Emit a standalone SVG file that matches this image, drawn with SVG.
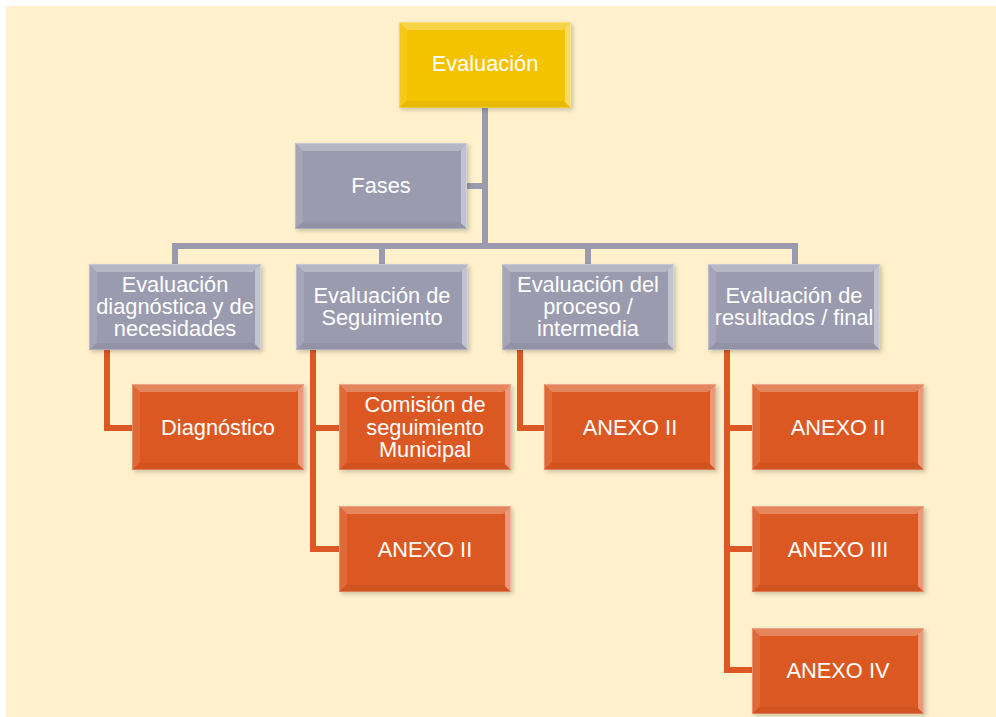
<svg xmlns="http://www.w3.org/2000/svg" xmlns:xlink="http://www.w3.org/1999/xlink" width="996" height="717" viewBox="0 0 996 717">
<style>
.t{font-family:"Liberation Sans",Arial,sans-serif;font-size:21.8px;fill:#ffffff;text-anchor:middle}
.gold{fill:#F4C300}
.gray{fill:#9A9BAF}
.org{fill:#DC5824}
.cg{stroke:#9A9BAF;stroke-width:6;fill:none}
.co{stroke:#DC5824;stroke-width:6;fill:none}
</style>
<defs>
<filter id="sh" x="-10%" y="-10%" width="130%" height="130%">
<feDropShadow dx="2" dy="2" stdDeviation="2" flood-color="#000" flood-opacity="0.2"/>
</filter>
<g id="bevel">
<polygon points="0,0 172,0 164,8 8,8" fill="#ffffff" fill-opacity="0.28"/>
<polygon points="0,0 8,8 8,78 0,86" fill="#ffffff" fill-opacity="0.1"/>
<polygon points="172,0 172,86 166,80 166,6" fill="#ffffff" fill-opacity="0.4"/>
<polygon points="0,86 172,86 164,79 8,79" fill="#000000" fill-opacity="0.05"/>
<rect x="0.5" y="0.5" width="171" height="85" fill="none" stroke="#ffffff" stroke-opacity="0.25"/>
</g>
</defs>
<rect x="0" y="0" width="996" height="717" fill="#ffffff"/>
<rect x="6" y="6" width="990" height="711" fill="#FEF1CC"/>
<g id="connectors">
<path class="cg" d="M485,107 V246"/>
<path class="cg" d="M467,186 H485"/>
<path class="cg" d="M175,264 V246 H795 V264"/>
<path class="cg" d="M382,246 V264"/>
<path class="cg" d="M588,246 V264"/>
<path class="co" d="M107,349 V428 H132"/>
<path class="co" d="M313,349 V549 H339"/>
<path class="co" d="M313,428 H339"/>
<path class="co" d="M520,349 V428 H544"/>
<path class="co" d="M727,349 V670 H752"/>
<path class="co" d="M727,428 H752"/>
<path class="co" d="M727,549 H752"/>
</g>
<g id="n-evaluacion" transform="translate(399,22)">
<rect width="172" height="86" class="gold" filter="url(#sh)"/><use xlink:href="#bevel"/>
<text class="t" x="86" y="49">Evaluación</text>
</g>
<g id="n-fases" transform="translate(295,143)">
<rect width="172" height="86" class="gray" filter="url(#sh)"/><use xlink:href="#bevel"/>
<text class="t" x="86" y="50">Fases</text>
</g>
<g id="n-diag-nec" transform="translate(89,264)">
<rect width="172" height="86" class="gray" filter="url(#sh)"/><use xlink:href="#bevel"/>
<text class="t" x="86" y="28">Evaluación</text>
<text class="t" x="86" y="50">diagnóstica y de</text>
<text class="t" x="86" y="72">necesidades</text>
</g>
<g id="n-seguimiento" transform="translate(296,264)">
<rect width="172" height="86" class="gray" filter="url(#sh)"/><use xlink:href="#bevel"/>
<text class="t" x="86" y="39">Evaluación de</text>
<text class="t" x="86" y="61">Seguimiento</text>
</g>
<g id="n-proceso" transform="translate(502,264)">
<rect width="172" height="86" class="gray" filter="url(#sh)"/><use xlink:href="#bevel"/>
<text class="t" x="86" y="28">Evaluación del</text>
<text class="t" x="86" y="50">proceso /</text>
<text class="t" x="86" y="72">intermedia</text>
</g>
<g id="n-resultados" transform="translate(708,264)">
<rect width="172" height="86" class="gray" filter="url(#sh)"/><use xlink:href="#bevel"/>
<text class="t" x="86" y="39">Evaluación de</text>
<text class="t" x="86" y="61">resultados / final</text>
</g>
<g id="n-diagnostico" transform="translate(132,384)">
<rect width="172" height="86" class="org" filter="url(#sh)"/><use xlink:href="#bevel"/>
<text class="t" x="86" y="51">Diagnóstico</text>
</g>
<g id="n-comision" transform="translate(339,384)">
<rect width="172" height="86" class="org" filter="url(#sh)"/><use xlink:href="#bevel"/>
<text class="t" x="86" y="28">Comisión de</text>
<text class="t" x="86" y="51">seguimiento</text>
<text class="t" x="86" y="73">Municipal</text>
</g>
<g id="n-seg-anexo2" transform="translate(339,506)">
<rect width="172" height="86" class="org" filter="url(#sh)"/><use xlink:href="#bevel"/>
<text class="t" x="86" y="51">ANEXO II</text>
</g>
<g id="n-proc-anexo2" transform="translate(544,384)">
<rect width="172" height="86" class="org" filter="url(#sh)"/><use xlink:href="#bevel"/>
<text class="t" x="86" y="51">ANEXO II</text>
</g>
<g id="n-res-anexo2" transform="translate(752,384)">
<rect width="172" height="86" class="org" filter="url(#sh)"/><use xlink:href="#bevel"/>
<text class="t" x="86" y="51">ANEXO II</text>
</g>
<g id="n-res-anexo3" transform="translate(752,506)">
<rect width="172" height="86" class="org" filter="url(#sh)"/><use xlink:href="#bevel"/>
<text class="t" x="86" y="51">ANEXO III</text>
</g>
<g id="n-res-anexo4" transform="translate(752,628)">
<rect width="172" height="86" class="org" filter="url(#sh)"/><use xlink:href="#bevel"/>
<text class="t" x="86" y="50">ANEXO IV</text>
</g>
</svg>
